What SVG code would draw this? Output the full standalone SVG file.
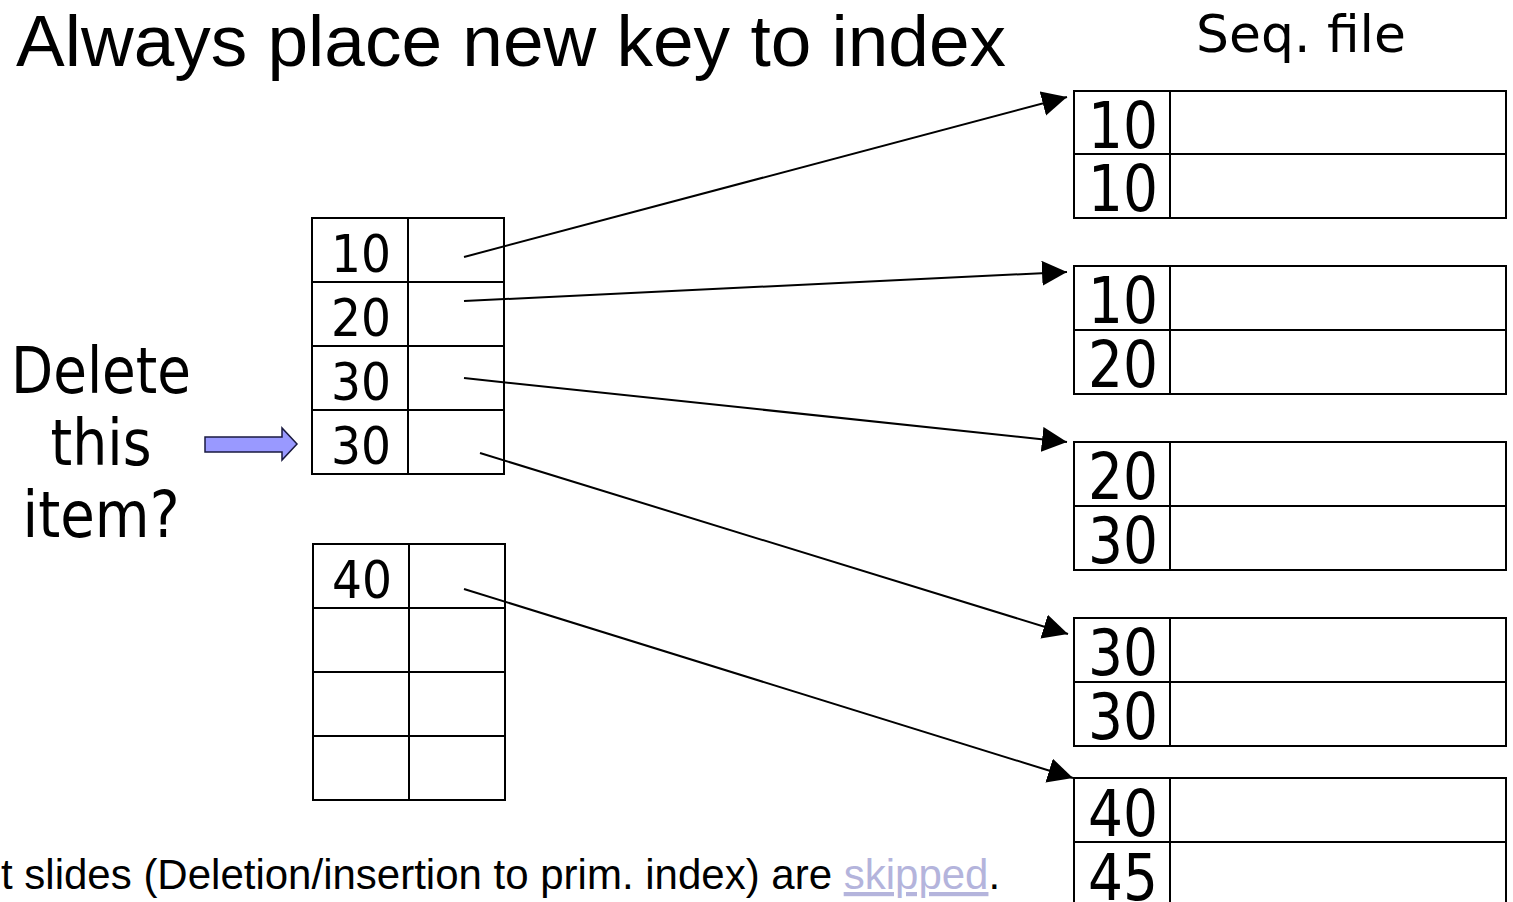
<svg xmlns="http://www.w3.org/2000/svg" width="1513" height="902" viewBox="0 0 1513 902">
<style>
.cell{fill:#fff;stroke:#000;stroke-width:2}
.grid{stroke:#000;stroke-width:2;fill:none}
.ik{font-family:"DejaVu Sans",Verdana,sans-serif;font-size:51px;fill:#000;text-anchor:middle}
.sk{font-family:"DejaVu Sans",Verdana,sans-serif;font-size:64px;fill:#000;text-anchor:middle}
.tah{font-family:"DejaVu Sans",Verdana,sans-serif;fill:#000}
.conn{stroke:#000;stroke-width:2;fill:none;marker-end:url(#ah)}
</style>
<defs>
<marker id="ah" markerUnits="userSpaceOnUse" markerWidth="26" markerHeight="26" refX="25" refY="12.5" orient="auto" viewBox="0 0 26 26">
<path d="M0,0 L25,12.5 L0,25 z" fill="#000"/>
</marker>
</defs>
<rect width="1513" height="902" fill="#fff"/>

<text x="16" y="66" style="font-family:'Liberation Sans',Arial,sans-serif;font-size:73px" fill="#000">Always place new key to index</text>
<text x="1196" y="52" class="tah" style="font-size:52px" textLength="210" lengthAdjust="spacingAndGlyphs">Seq. file</text>

<g id="delete-label">
<text x="101" y="393" class="tah" style="font-size:64px" text-anchor="middle" textLength="180" lengthAdjust="spacingAndGlyphs">Delete</text>
<text x="101" y="465" class="tah" style="font-size:64px" text-anchor="middle" textLength="101" lengthAdjust="spacingAndGlyphs">this</text>
<text x="101" y="537" class="tah" style="font-size:64px" text-anchor="middle" textLength="157" lengthAdjust="spacingAndGlyphs">item?</text>
</g>

<g id="pointer-arrow">
<path d="M205,437 L282,437 L282,428 L297,444 L282,460 L282,452 L205,452 z" fill="#9999ff" stroke="#1a1a40" stroke-width="1.5"/>
</g>

<g id="index-block-1">
<rect class="cell" x="312" y="218" width="192" height="256"/>
<path class="grid" d="M408,218 V474 M312,282 H504 M312,346 H504 M312,410 H504"/>
<text class="ik" x="361" y="272" textLength="60" lengthAdjust="spacingAndGlyphs">10</text>
<text class="ik" x="361" y="336" textLength="60" lengthAdjust="spacingAndGlyphs">20</text>
<text class="ik" x="361" y="400" textLength="60" lengthAdjust="spacingAndGlyphs">30</text>
<text class="ik" x="361" y="464" textLength="60" lengthAdjust="spacingAndGlyphs">30</text>
</g>

<g id="index-block-2">
<rect class="cell" x="313" y="544" width="192" height="256"/>
<path class="grid" d="M409,544 V800 M313,608 H505 M313,672 H505 M313,736 H505"/>
<text class="ik" x="362" y="598" textLength="60" lengthAdjust="spacingAndGlyphs">40</text>
</g>

<g id="seq-block-1">
<rect class="cell" x="1074" y="91" width="432" height="127"/>
<path class="grid" d="M1170,91 V218 M1074,154 H1506"/>
<text class="sk" x="1123" y="148" textLength="70" lengthAdjust="spacingAndGlyphs">10</text>
<text class="sk" x="1123" y="211" textLength="70" lengthAdjust="spacingAndGlyphs">10</text>
</g>
<g id="seq-block-2">
<rect class="cell" x="1074" y="266" width="432" height="128"/>
<path class="grid" d="M1170,266 V394 M1074,330 H1506"/>
<text class="sk" x="1123" y="323" textLength="70" lengthAdjust="spacingAndGlyphs">10</text>
<text class="sk" x="1123" y="387" textLength="70" lengthAdjust="spacingAndGlyphs">20</text>
</g>
<g id="seq-block-3">
<rect class="cell" x="1074" y="442" width="432" height="128"/>
<path class="grid" d="M1170,442 V570 M1074,506 H1506"/>
<text class="sk" x="1123" y="499" textLength="70" lengthAdjust="spacingAndGlyphs">20</text>
<text class="sk" x="1123" y="563" textLength="70" lengthAdjust="spacingAndGlyphs">30</text>
</g>
<g id="seq-block-4">
<rect class="cell" x="1074" y="618" width="432" height="128"/>
<path class="grid" d="M1170,618 V746 M1074,682 H1506"/>
<text class="sk" x="1123" y="675" textLength="70" lengthAdjust="spacingAndGlyphs">30</text>
<text class="sk" x="1123" y="739" textLength="70" lengthAdjust="spacingAndGlyphs">30</text>
</g>
<g id="seq-block-5">
<rect class="cell" x="1074" y="778" width="432" height="140"/>
<path class="grid" d="M1170,778 V918 M1074,842 H1506"/>
<text class="sk" x="1123" y="836" textLength="70" lengthAdjust="spacingAndGlyphs">40</text>
<text class="sk" x="1123" y="900" textLength="70" lengthAdjust="spacingAndGlyphs">45</text>
</g>

<g id="connectors">
<line class="conn" x1="464" y1="257" x2="1067" y2="97"/>
<line class="conn" x1="464" y1="301" x2="1067" y2="272"/>
<line class="conn" x1="464" y1="378" x2="1067" y2="442"/>
<line class="conn" x1="480" y1="453" x2="1068" y2="634"/>
<line class="conn" x1="464" y1="589" x2="1073" y2="778"/>
</g>

<text x="1" y="889" style="font-family:'Liberation Sans',Arial,sans-serif;font-size:42px" fill="#000">t slides (Deletion/insertion to prim. index) are <tspan fill="#b4b4dc" text-decoration="underline">skipped</tspan>.</text>
</svg>
